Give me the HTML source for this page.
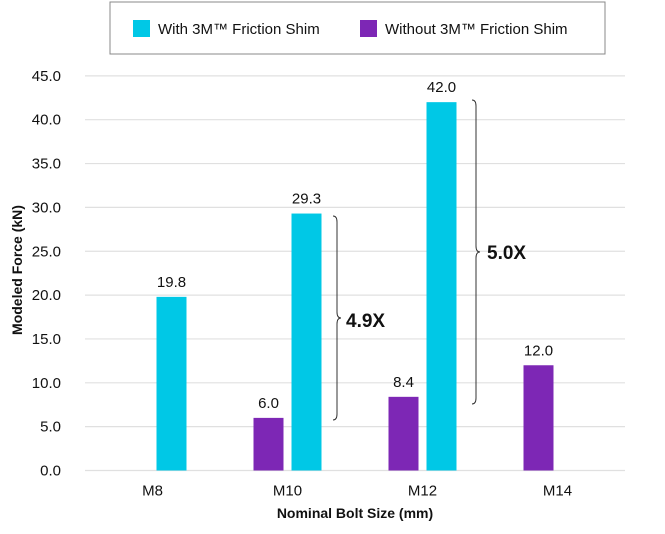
<!DOCTYPE html>
<html><head><meta charset="utf-8"><style>
body{margin:0;background:#fff;font-family:"Liberation Sans",sans-serif;}
svg text{font-family:"Liberation Sans",sans-serif;}
</style></head><body>
<svg width="665" height="529" viewBox="0 0 665 529">
<g>
<rect x="110" y="2" width="495" height="52" fill="#fff" stroke="#888" stroke-width="1"/>
<rect x="133" y="20" width="17" height="17" fill="#00c8e6"/>
<text x="158" y="34" font-size="15" fill="#111">With 3M™ Friction Shim</text>
<rect x="360" y="20" width="17" height="17" fill="#7d27b5"/>
<text x="385" y="34" font-size="15" fill="#111">Without 3M™ Friction Shim</text>
</g>
<g id="grid"></g><g id="bars"></g>
<g>
<path d="M333,216 q4,0 4,6 L337,312 q0,6 4,6 q-4,0 -4,6 L337,414 q0,6 -4,6" fill="none" stroke="#333" stroke-width="1"/>
<text x="346" y="327" font-size="19" font-weight="bold" fill="#111">4.9X</text>
<path d="M472,100 q4,0 4,6 L476,246 q0,6 4,6 q-4,0 -4,6 L476,398 q0,6 -4,6" fill="none" stroke="#333" stroke-width="1"/>
<text x="487" y="259" font-size="19" font-weight="bold" fill="#111">5.0X</text>
</g>
<text transform="translate(22,270) rotate(-90)" text-anchor="middle" font-size="14" font-weight="bold" fill="#111">Modeled Force (kN)</text>
<text x="355" y="518" text-anchor="middle" font-size="14" font-weight="bold" fill="#111">Nominal Bolt Size (mm)</text>
</svg>
<script>
const categories=["M8","M10","M12","M14"];
const withShim=[19.8,29.3,42.0,null];
const withoutShim=[null,6.0,8.4,12.0];
const yTicks=[0,5,10,15,20,25,30,35,40,45];
const NS="http://www.w3.org/2000/svg";
const x0=85,x1=625,y0=470.5,yPer=8.77;
const band=(x1-x0)/categories.length;
function yS(v){return y0-v*yPer;}
function xC(i){return x0+band*(i+0.5);}
function mk(t,a,p){const e=document.createElementNS(NS,t);for(const k in a)e.setAttribute(k,a[k]);p.appendChild(e);return e;}
const grid=document.getElementById('grid'),bars=document.getElementById('bars');
yTicks.forEach(v=>{
 const l=mk('line',{x1:x0,x2:x1,y1:yS(v),y2:yS(v),stroke:'#e0e0e0','stroke-width':1.2},grid);
 
 
 const t=mk('text',{x:61,y:yS(v)+5,'text-anchor':'end','font-size':15,fill:'#111'},grid);
 t.textContent=v.toFixed(1);
 
 
});
categories.forEach((c,i)=>{
 const t=mk('text',{x:xC(i),y:y0+25,'text-anchor':'middle','font-size':15,fill:'#111'},grid);
 t.textContent=c;
 
 
 [[withoutShim[i],-34,'#7d27b5','bar-without-'],[withShim[i],4,'#00c8e6','bar-with-']].forEach(([v,off,col,nm])=>{
  if(v==null)return;
  const r=mk('rect',{x:xC(i)+off,y:yS(v),width:30,height:y0-yS(v),fill:col},bars);
  
  
  const tl=mk('text',{x:xC(i)+off+15,y:yS(v)-10,'text-anchor':'middle','font-size':15,fill:'#111'},bars);
  tl.textContent=v.toFixed(1);
  
  
 });
});
</script>
</body></html>
